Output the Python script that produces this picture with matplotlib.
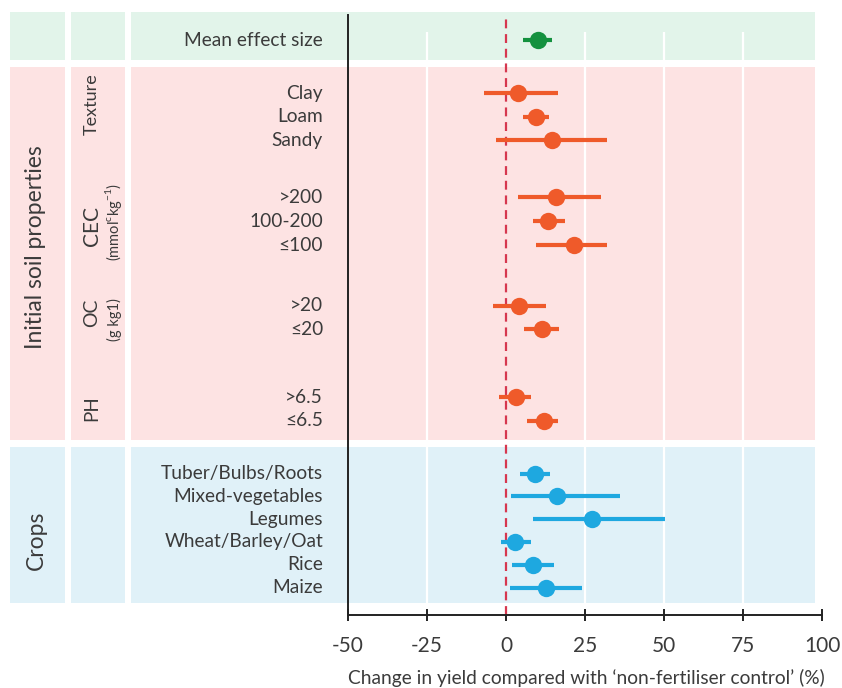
import matplotlib
matplotlib.use("Agg")
import matplotlib.pyplot as plt
from matplotlib.patches import FancyBboxPatch
from matplotlib.transforms import blended_transform_factory

plt.rcParams['font.family'] = ['Lato', 'DejaVu Sans']
plt.rcParams['mathtext.fontset'] = 'custom'
plt.rcParams['mathtext.rm'] = 'Lato'

# ---------------- data ----------------
row_labels = ["Mean effect size",
              "Clay", "Loam", "Sandy",
              ">200", "100-200", "\u2264100",
              ">20", "\u226420",
              ">6.5", "\u22646.5",
              "Tuber/Bulbs/Roots", "Mixed-vegetables", "Legumes",
              "Wheat/Barley/Oat", "Rice", "Maize"]
row_group = ["mean",
             "soil", "soil", "soil",
             "soil", "soil", "soil",
             "soil", "soil",
             "soil", "soil",
             "crop", "crop", "crop", "crop", "crop", "crop"]
effect = [10.2, 3.9, 9.4, 14.6, 15.8, 13.3, 21.4, 4.1, 11.5, 3.3, 12.0,
          9.1, 16.2, 27.3, 2.8, 8.4, 12.8]
ci_low = [5.4, -7.0, 5.4, -3.3, 3.8, 8.4, 9.6, -4.0, 5.7, -2.1, 6.7,
          4.3, 1.5, 8.4, -1.7, 1.9, 1.2]
ci_high = [14.6, 16.5, 13.7, 32.0, 30.2, 18.6, 32.0, 12.6, 16.8, 8.0, 16.5,
           13.9, 36.0, 50.3, 8.0, 15.2, 24.2]
x_ticks = [-50, -25, 0, 25, 50, 75, 100]
x_label = "Change in yield compared with \u2018non-fertiliser control\u2019 (%)"

# ---------------- layout ----------------
sub_sizes = [1, 3, 3, 2, 2, 6]
sub_starts = [0.0, 2.26, 6.7, 11.3, 15.2, 18.45]
sub_steps = [1.0, 1.0, 1.02, 1.0, 1.0, 0.97]
ypos = []
for n, s, st in zip(sub_sizes, sub_starts, sub_steps):
    ypos += [s + i * st for i in range(n)]

colors = {"mean": "#14913f", "soil": "#ef5a2a", "crop": "#1ea8e0"}
band_colors = {"mean": "#e2f4ea", "soil": "#fde3e3", "crop": "#e0f1f8"}
text_color = "#3b3b3b"

W, H = 842, 688
fig = plt.figure(figsize=(W / 100, H / 100), dpi=100)
ax = fig.add_axes([348 / W, 73 / H, 474 / W, 600 / H])
ax.set_xlim(-50, 100)
ax.set_ylim(24.47, -1.064)
ax.patch.set_visible(False)

tr = blended_transform_factory(fig.transFigure, ax.transData)

bands = [("mean", -1.19, 0.85), ("soil", 1.15, 17.02), ("crop", 17.32, 23.96)]
cols = [(10, 65), (71, 125), (131, 815)]
for key, y0, y1 in bands:
    for cx0, cx1 in cols:
        r = FancyBboxPatch((cx0 / W, y0), (cx1 - cx0) / W, y1 - y0,
                           boxstyle="square,pad=0", transform=tr,
                           facecolor=band_colors[key], edgecolor="none",
                           clip_on=False, zorder=0)
        ax.add_patch(r)

ax.vlines([-25, 25, 50, 75], -0.34, 23.96, color="white", lw=1.6, zorder=1)

ax.axvline(0, color="#d6374f", lw=1.6, ls=(0, (4, 2.6)), zorder=2)

for y, m, lo, hi, g in zip(ypos, effect, ci_low, ci_high, row_group):
    ax.hlines(y, lo, hi, color=colors[g], lw=3, zorder=3)
    ax.plot(m, y, "o", ms=12.5, color=colors[g], zorder=4, mec="none")

for y, lab in zip(ypos, row_labels):
    ax.text(323 / W, y, lab, transform=tr, ha="right", va="center",
            fontsize=13.8, color=text_color)

ax.text(36 / W, 8.83, "Initial soil properties", transform=tr, rotation=90,
        ha="center", va="center", fontsize=16.5, color=text_color)
ax.text(36 / W, 21.3, "Crops", transform=tr, rotation=90,
        ha="center", va="center", fontsize=16.5, color=text_color)
ax.text(92 / W, 2.72, "Texture", transform=tr, rotation=90,
        ha="center", va="center", fontsize=13, color=text_color)
ax.text(92 / W, 7.9, "CEC", transform=tr, rotation=90,
        ha="center", va="center", fontsize=15, color=text_color)
ax.text(114 / W, 7.74, r"(mmol$^{\mathregular{c}}$kg$^{\mathregular{-1}}$)",
        transform=tr, rotation=90, ha="center", va="center", fontsize=10.5,
        color=text_color)
ax.text(92 / W, 11.6, "OC", transform=tr, rotation=90,
        ha="center", va="center", fontsize=14, color=text_color)
ax.text(114 / W, 11.9, "(g kg1)", transform=tr, rotation=90,
        ha="center", va="center", fontsize=10.5, color=text_color)
ax.text(92 / W, 15.66, "PH", transform=tr, rotation=90,
        ha="center", va="center", fontsize=13.5, color=text_color)

for s in ["top", "right"]:
    ax.spines[s].set_visible(False)
for s in ["left", "bottom"]:
    ax.spines[s].set_linewidth(1.4)
    ax.spines[s].set_color("#222222")
ax.set_yticks([])
ax.set_xticks(x_ticks)
ax.set_xticklabels([str(t) for t in x_ticks])
ax.tick_params(axis="x", direction="inout", length=8.5, width=1.4,
               color="#222222", labelsize=15, labelcolor=text_color, pad=11)

fig.text(586 / W, 1 - 678 / H, x_label, ha="center", va="center",
         fontsize=13.8, color=text_color)

fig.savefig("out.png", dpi=100, facecolor="white")
